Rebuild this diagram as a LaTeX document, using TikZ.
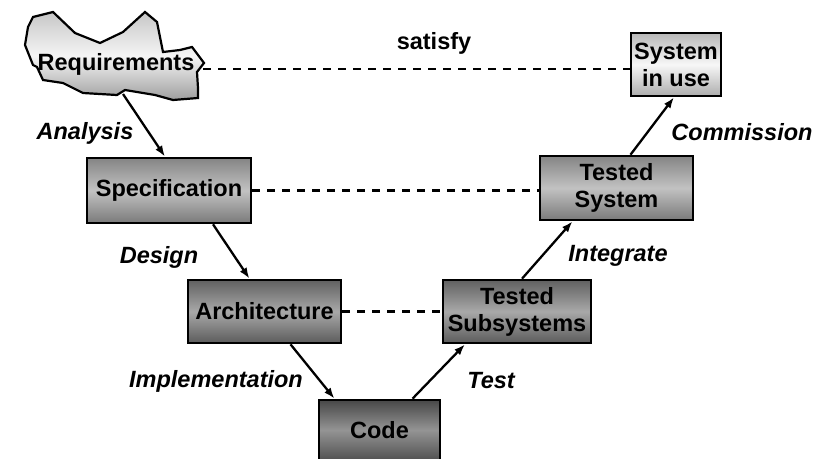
\documentclass[tikz,border=0pt]{standalone}
\usepackage{fontspec}
\setmainfont{Liberation Sans}
\usetikzlibrary{arrows.meta,positioning,calc}

\begin{document}
\begin{tikzpicture}[x=1pt, y=-1pt,
        stage/.style={rectangle, draw, line width=2.6pt, align=center, inner sep=0pt, font=\bfseries\fontsize{23.5}{27}\selectfont},
        light/.style={top color=black!28, bottom color=black!32, middle color=black!3},
        mid/.style={top color=black!48, bottom color=black!52, middle color=black!24},
        dark/.style={top color=black!62, bottom color=black!64, middle color=black!34},
        darkest/.style={top color=black!72, bottom color=black!68, middle color=black!42},
        arrow/.style={-{Latex[length=11pt, width=8pt]}, line width=2.3pt},
        link/.style={dash pattern=on 8pt off 7pt, line width=2.3pt},
        lbl/.style={font=\bfseries\itshape\fontsize{23.5}{27}\selectfont}]
        \useasboundingbox (0,0) rectangle (830,458);

        % Requirements cloud
        \shade[draw, line width=2.2pt, top color=black!22, bottom color=black!38, middle color=black!4]
            (33,17) -- (53,12) -- (75,33) -- (100,43) -- (123,32) -- (145,12) -- (157,22)
            -- (163,52) -- (180,50) -- (192,47) -- (204,63) -- (197,72) -- (198,88) -- (198,98)
            -- (173,100) -- (155,95) -- (125,90) -- (117,95) -- (83,93) -- (63,83) -- (43,80)
            -- (37,67) -- (33,65) -- (25,45) -- (28,27) -- cycle;
        \node[font=\bfseries\fontsize{23.5}{27}\selectfont] (req) at (116,64) {Requirements};
        \coordinate (reqbot) at (123,94);
        \coordinate (reqright) at (203,69);

        % Left branch
        \node[stage, mid, minimum width=164pt, minimum height=65pt] (spec) at (169,190.5) {Specification};
        \node[stage, dark, minimum width=153pt, minimum height=63pt] (arch) at (264.5,311.5) {Architecture};
        \node[stage, darkest, minimum width=121pt, minimum height=60pt] (code) at (379.5,430) {Code};

        % Right branch
        \node[stage, dark, minimum width=148pt, minimum height=63pt] (subsys) at (517,311.5) {Tested\\Subsystems};
        \node[stage, mid, minimum width=153pt, minimum height=64pt] (tsys) at (616.5,188) {Tested\\System};
        \node[stage, light, minimum width=90pt, minimum height=63pt] (use) at (676,64.5) {System\\in use};

        % Development steps
        \draw[arrow] (reqbot) -- ([xshift=-4pt]spec.north);
        \draw[arrow] ([xshift=44pt]spec.south) -- ([xshift=-15pt]arch.north);
        \draw[arrow] ([xshift=26pt]arch.south) -- ([xshift=-45pt]code.north);
        \draw[arrow] ([xshift=33pt]code.north) -- ([xshift=-52pt]subsys.south);
        \draw[arrow] ([xshift=5pt]subsys.north) -- ([xshift=-44pt]tsys.south);
        \draw[arrow] ([xshift=14pt]tsys.north) -- ([xshift=-2pt]use.south);

        \node[lbl] (analysis) at (85,133) {Analysis};
        \node[lbl] (design) at (159,257) {Design};
        \node[lbl] (impl) at (216,381) {Implementation};
        \node[lbl] (test) at (491,381) {Test};
        \node[lbl] (integrate) at (618,256) {Integrate};
        \node[lbl] (commission) at (742,132) {Commission};

        % Verification links
        \draw[link] (reqright) -- (reqright -| use.west);
        \draw[link] (spec.east) -- (spec.east -| tsys.west);
        \draw[link] (arch.east) -- (subsys.west);
        \node[font=\bfseries\fontsize{23.5}{27}\selectfont] (satisfy) at (434,43) {satisfy};
    \end{tikzpicture}
\end{document}
